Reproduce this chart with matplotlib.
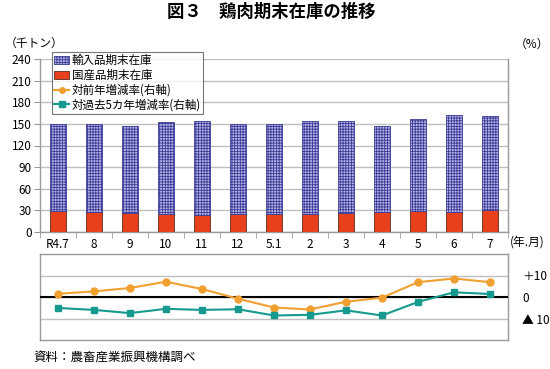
import numpy as np
import matplotlib
matplotlib.use('Agg')
import matplotlib.pyplot as plt
from matplotlib.patches import Patch
from matplotlib.lines import Line2D

plt.rcParams['font.family'] = ['Noto Sans CJK JP', 'DejaVu Sans']
plt.rcParams['hatch.linewidth'] = 0.6

# data
months = ['R4.7', '8', '9', '10', '11', '12', '5.1', '2', '3', '4', '5', '6', '7']
total = [149.5, 149.5, 147.7, 153.2, 154.6, 149.5, 150.0, 154.0, 154.6, 147.7, 157.4, 162.4, 160.6]
domestic = [28.6, 28.2, 25.9, 25.0, 23.2, 24.5, 24.5, 24.5, 26.8, 27.3, 29.0, 28.2, 30.5]
yoy = [1.5, 2.6, 4.2, 7.1, 3.7, -0.8, -4.9, -5.8, -2.2, -0.3, 6.9, 8.6, 6.9]
vs5y = [-5.1, -6.0, -7.5, -5.5, -6.0, -5.7, -8.6, -8.3, -6.2, -8.6, -2.3, 2.2, 1.4]
imported = [t - d for t, d in zip(total, domestic)]

C_IMP_FACE = '#b4b4e6'
C_IMP_EDGE = '#3c3c98'
C_DOM = '#e8401c'
C_YOY = '#f0a030'
C_5Y = '#169a90'
C_GRID = '#bfbfbf'
C_AX = '#9a9a9a'

W, H = 550, 369
fig = plt.figure(figsize=(W / 100, H / 100), dpi=100)


def px_axes(left, top, right, bottom):
    return fig.add_axes([left / W, 1 - bottom / H, (right - left) / W,
                         (bottom - top) / H])


x = np.arange(len(months))

# ---- top panel: stacked bars
ax = px_axes(40, 59, 508, 232)
ax.bar(x, domestic, width=0.42, color=C_DOM, edgecolor='#5a2a20', lw=0.6,
       zorder=3)
ax.bar(x, imported, width=0.42, bottom=domestic, color=C_IMP_FACE,
       edgecolor=C_IMP_EDGE, hatch='++++++', lw=0.6, zorder=3)
ax.set_xlim(-0.5, len(months) - 0.5)
ax.set_ylim(0, 240)
ax.set_yticks(range(0, 241, 30))
ax.yaxis.grid(True, color=C_GRID, lw=1)
ax.set_axisbelow(True)
ax.set_xticks(x)
ax.set_xticklabels(months, fontsize=8.5)
ax.set_xticks(np.arange(-0.5, len(months), 1), minor=True)
ax.tick_params(axis='x', which='major', length=0, pad=4)
ax.tick_params(axis='x', which='minor', length=4, color=C_AX, direction='out')
ax.tick_params(axis='y', length=4, color=C_AX, labelsize=8.5, pad=2)
for sp in ax.spines.values():
    sp.set_color(C_AX)
    sp.set_linewidth(1)
ax.spines['top'].set_visible(False)

# ---- bottom panel: rate lines
ax2 = px_axes(40, 254, 508, 340)
ax2.plot(x, yoy, color=C_YOY, lw=1.5, marker='o', ms=5, zorder=4)
ax2.plot(x, vs5y, color=C_5Y, lw=1.5, marker='s', ms=5, zorder=4)
ax2.axhline(0, color='black', lw=1.5, zorder=3)
ax2.set_xlim(-0.5, len(months) - 0.5)
ax2.set_ylim(-20, 20)
ax2.set_xticks([])
ax2.yaxis.tick_right()
ax2.set_yticks([-10, 0, 10])
ax2.set_yticklabels(['▲ 10', '0', '＋10'], fontsize=8.5)
ax2.yaxis.grid(True, color=C_GRID, lw=1)
ax2.tick_params(axis='y', length=0, pad=10)
for sp in ax2.spines.values():
    sp.set_color(C_AX)
    sp.set_linewidth(1)

# ---- legend
handles = [
    Patch(facecolor=C_IMP_FACE, edgecolor=C_IMP_EDGE, hatch='++++++', lw=0.6),
    Patch(facecolor=C_DOM, edgecolor='#5a2a20', lw=0.6),
    Line2D([], [], color=C_YOY, lw=1.5, marker='o', ms=4),
    Line2D([], [], color=C_5Y, lw=1.5, marker='s', ms=4),
]
labels = ['輸入品期末在庫', '国産品期末在庫', '対前年増減率(右軸)',
          '対過去5カ年増減率(右軸)']
leg = fig.legend(handles, labels, loc='upper left',
                 bbox_to_anchor=(52 / W, 1 - 52 / H), fontsize=8.3,
                 frameon=True, fancybox=False, borderpad=0.2,
                 labelspacing=0.15, handlelength=1.3, handletextpad=0.2,
                 borderaxespad=0)
leg.get_frame().set_edgecolor('#555555')
leg.get_frame().set_linewidth(0.8)

# ---- texts
fig.text(271 / W, 1 - 12 / H, '図３　鶏肉期末在庫の推移', ha='center',
         va='center', fontsize=12.5, weight='bold')
fig.text(5 / W, 1 - 43 / H, '（千トン）', ha='left', va='center', fontsize=8.5)
fig.text(515 / W, 1 - 44 / H, '（%）', ha='left', va='center', fontsize=8.5)
fig.text(510 / W, 1 - 242 / H, '(年.月)', ha='left', va='center',
         fontsize=8.5)
fig.text(33 / W, 1 - 357 / H, '資料：農畜産業振興機構調べ', ha='left',
         va='center', fontsize=9)

fig.savefig('out.png', dpi=100)
